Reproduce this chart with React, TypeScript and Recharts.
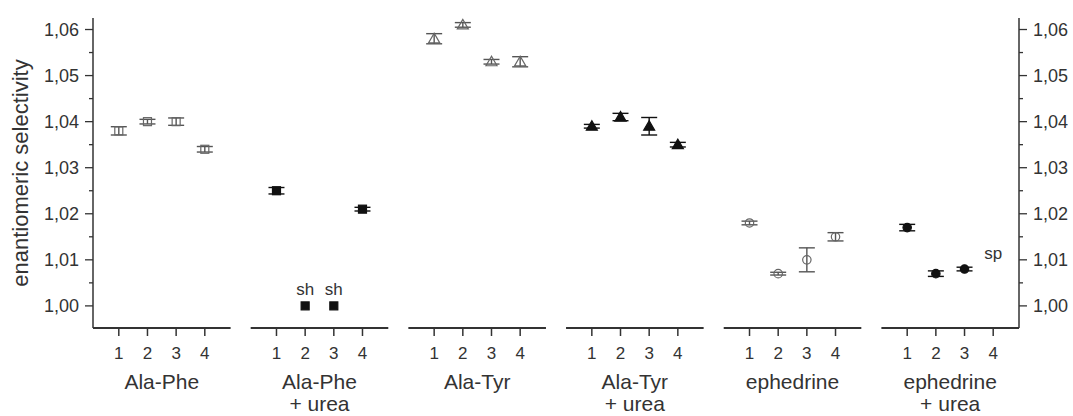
import { ScatterChart, Scatter, XAxis, YAxis, ErrorBar, ReferenceLine, ReferenceDot } from 'recharts'

const FONT = '"Liberation Sans", Arial, Helvetica, sans-serif'
const INK = '#333'
const GROUP_STEP = 5.5

// measurement positions inside each group
const positions = [1, 2, 3, 4]
const groupLabels = [
  ['Ala-Phe'],
  ['Ala-Phe', '+ urea'],
  ['Ala-Tyr'],
  ['Ala-Tyr', '+ urea'],
  ['ephedrine'],
  ['ephedrine', '+ urea'],
]

const alaPhe = [1.038, 1.040, 1.040, 1.034]
const alaPheErr = [0.0009, 0.0005, 0.0008, 0.0006]
const alaPheUrea = [1.025, 1.000, 1.000, 1.021]
const alaPheUreaErr = [0.0007, 0, 0, 0.0004]
const alaTyr = [1.058, 1.061, 1.053, 1.053]
const alaTyrErr = [0.0011, 0.0005, 0.0005, 0.0011]
const alaTyrUrea = [1.039, 1.041, 1.039, 1.035]
const alaTyrUreaErr = [0.0004, 0.0008, 0.0019, 0.0005]
const ephedrine = [1.018, 1.007, 1.010, 1.015]
const ephedrineErr = [0.0004, 0.0003, 0.0026, 0.0009]
const ephedrineUrea = [1.017, 1.007, 1.008, null]
const ephedrineUreaErr = [0.0007, 0.0006, 0.0004, null]

const yTicks = [1.0, 1.005, 1.01, 1.015, 1.02, 1.025, 1.03, 1.035, 1.04, 1.045, 1.05, 1.055, 1.06]
const Y_DOMAIN = [0.9952, 1.0625]
const X_DOMAIN = [0.1, 32.4]

// text notes: sh = shoulder, sp = split peak
const notes = [
  { group: 1, pos: 2, y: 1.0036, text: 'sh' },
  { group: 1, pos: 3, y: 1.0036, text: 'sh' },
  { group: 5, pos: 4, y: 1.0115, text: 'sp' },
]

const series = [
  { name: 'Ala-Phe', values: alaPhe, errors: alaPheErr, kind: 'square', filled: false },
  { name: 'Ala-Phe + urea', values: alaPheUrea, errors: alaPheUreaErr, kind: 'square', filled: true },
  { name: 'Ala-Tyr', values: alaTyr, errors: alaTyrErr, kind: 'triangle', filled: false },
  { name: 'Ala-Tyr + urea', values: alaTyrUrea, errors: alaTyrUreaErr, kind: 'triangle', filled: true },
  { name: 'ephedrine', values: ephedrine, errors: ephedrineErr, kind: 'circle', filled: false },
  { name: 'ephedrine + urea', values: ephedrineUrea, errors: ephedrineUreaErr, kind: 'circle', filled: true },
]

const xOf = (group: number, pos: number) => group * GROUP_STEP + pos

// position ticks (1..4) plus one tick at each group centre for the group name
const xTicks = groupLabels.flatMap((_, g) => [...positions.map(p => xOf(g, p)), xOf(g, 2.5)]).sort((a, b) => a - b)

function markerShape(kind: string, filled: boolean) {
  const color = filled ? '#111' : '#666'
  return (props: any) => {
    const { cx, cy } = props
    if (cx == null || cy == null) return <g />
    const common = { fill: filled ? color : 'none', stroke: color, strokeWidth: 1.2 }
    if (kind === 'square') return <rect x={cx - 4} y={cy - 4} width={8} height={8} {...common} />
    if (kind === 'triangle') {
      const pts = `${cx},${cy - 5.5} ${cx - 5.5},${cy + 4} ${cx + 5.5},${cy + 4}`
      return <polygon points={pts} {...common} />
    }
    return <circle cx={cx} cy={cy} r={4.2} {...common} />
  }
}

const isMajor = (v: number) => Math.round(v * 1000) % 10 === 0
const fmt = (v: number) => v.toFixed(2).replace('.', ',')

function makeYTick(side: 'left' | 'right') {
  return (props: any) => {
    const { x, y, payload } = props
    const major = isMajor(payload.value)
    const ax = side === 'left' ? x + 14 : x - 14
    const len = major ? 8 : 4
    const x2 = side === 'left' ? ax - len : ax + len
    return (
      <g>
        <line x1={ax} y1={y} x2={x2} y2={y} stroke={INK} strokeWidth={1.3} />
        {major && (
          <text x={x} y={y} dy="0.36em" textAnchor={side === 'left' ? 'end' : 'start'} fontSize={18} fill={INK} fontFamily={FONT}>
            {fmt(payload.value)}
          </text>
        )}
      </g>
    )
  }
}

function XTick(props: any) {
  const { x, y, payload } = props
  const v = payload.value
  const local = ((v - 1) % GROUP_STEP) + 1
  if (Math.abs(local - 2.5) < 0.01) {
    const g = Math.round((v - 2.5) / GROUP_STEP)
    const lines = groupLabels[g] || []
    return (
      <text x={x} y={y} textAnchor="middle" fontSize={21} fill={INK} fontFamily={FONT}>
        {lines.map((l, i) => (
          <tspan key={i} x={x} dy={i === 0 ? 61 : 22}>{l}</tspan>
        ))}
      </text>
    )
  }
  return (
    <g>
      <line x1={x} y1={y} x2={x} y2={y + 8} stroke={INK} strokeWidth={1.5} />
      <text x={x} y={y + 31} textAnchor="middle" fontSize={17} fill={INK} fontFamily={FONT}>
        {Math.round(local)}
      </text>
    </g>
  )
}

export default function App() {
  return (
    <div style={{ position: 'absolute', left: 0, top: 0, width: 1073, height: 416, background: '#fff' }}>
      <ScatterChart width={1073} height={416} margin={{ top: 18, right: 0, bottom: 0, left: 0 }}>
        <XAxis
          xAxisId="pos"
          type="number"
          dataKey="x"
          domain={X_DOMAIN}
          ticks={xTicks}
          allowDataOverflow
          axisLine={false}
          tickLine={false}
          tickSize={0}
          tickMargin={0}
          height={88}
          interval={0}
          tick={<XTick />}
        />
        <YAxis
          yAxisId="left"
          type="number"
          domain={Y_DOMAIN}
          ticks={yTicks}
          allowDataOverflow
          interval={0}
          width={93}
          tickSize={8}
          tickMargin={6}
          tickLine={false}
          axisLine={{ stroke: INK, strokeWidth: 1.5 }}
          tick={makeYTick('left')}
          label={{
            value: 'enantiomeric selectivity',
            angle: -90,
            position: 'insideLeft',
            offset: 20,
            style: { textAnchor: 'middle', fontSize: 22, fill: INK, fontFamily: FONT },
          }}
        />
        <YAxis
          yAxisId="right"
          orientation="right"
          type="number"
          domain={Y_DOMAIN}
          ticks={yTicks}
          allowDataOverflow
          interval={0}
          width={54}
          tickSize={8}
          tickMargin={6}
          tickLine={false}
          axisLine={{ stroke: INK, strokeWidth: 1.5 }}
          tick={makeYTick('right')}
        />
        {groupLabels.map((_, g) => (
          <ReferenceLine
            key={`seg-${g}`}
            xAxisId="pos"
            yAxisId="left"
            segment={[
              { x: xOf(g, 0.1), y: Y_DOMAIN[0] },
              { x: xOf(g, 4.9), y: Y_DOMAIN[0] },
            ]}
            stroke={INK}
            strokeWidth={1.8}
            ifOverflow="visible"
          />
        ))}
        {series.map((s, g) => {
          const data = positions
            .map((p, i) => ({ x: xOf(g, p), y: s.values[i], err: s.errors[i] }))
            .filter(d => d.y != null)
          const color = s.filled ? '#111' : '#555'
          return (
            <Scatter
              key={s.name}
              name={s.name}
              data={data}
              xAxisId="pos"
              yAxisId="left"
              dataKey="y"
              shape={markerShape(s.kind, s.filled)}
              isAnimationActive={false}
            >
              <ErrorBar dataKey="err" direction="y" width={8} stroke={color} strokeWidth={1.4} isAnimationActive={false} />
            </Scatter>
          )
        })}
        {notes.map((n, i) => (
          <ReferenceDot
            key={`note-${i}`}
            xAxisId="pos"
            yAxisId="left"
            x={xOf(n.group, n.pos)}
            y={n.y}
            r={0}
            fill="none"
            stroke="none"
            label={{ value: n.text, position: 'center', fontSize: 17, fill: INK, fontFamily: FONT }}
          />
        ))}
      </ScatterChart>
    </div>
  )
}
